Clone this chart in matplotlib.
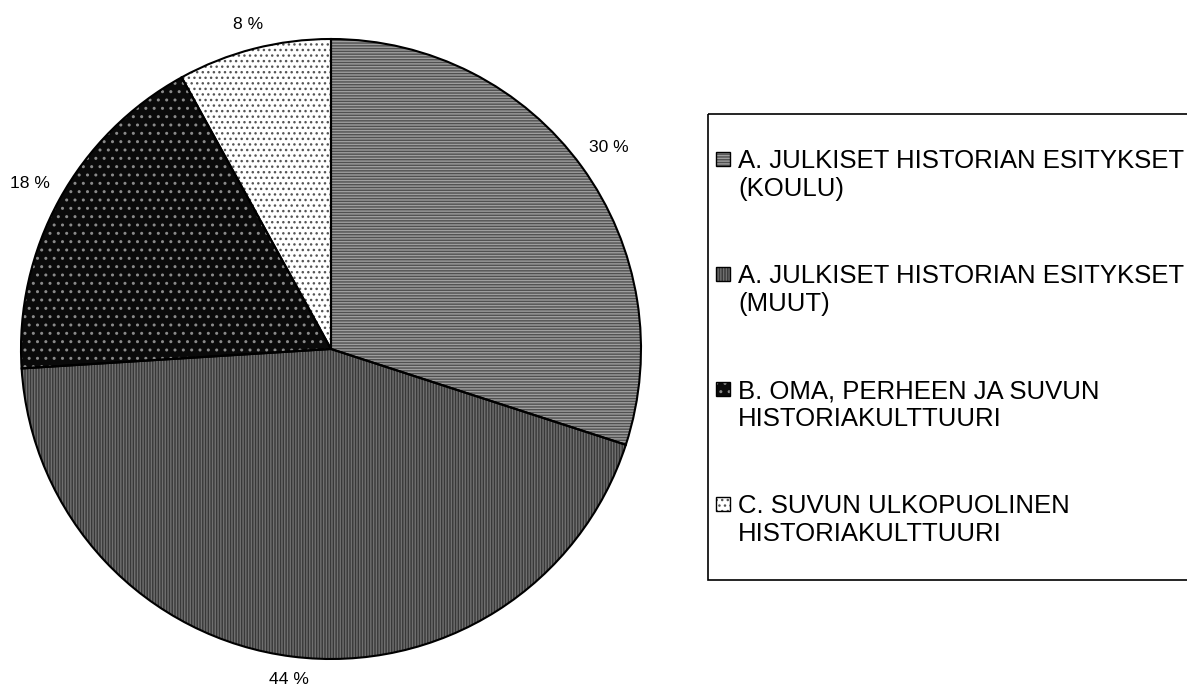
import matplotlib
matplotlib.use('Agg')
import numpy as np
import matplotlib.pyplot as plt
from matplotlib.patches import Rectangle

plt.rcParams['font.family'] = ['Liberation Sans', 'DejaVu Sans']
plt.rcParams['hatch.linewidth'] = 1.0

# data
categories = [
    'A. JULKISET HISTORIAN ESITYKSET\n(KOULU)',
    'A. JULKISET HISTORIAN ESITYKSET\n(MUUT)',
    'B. OMA, PERHEEN JA SUVUN\nHISTORIAKULTTUURI',
    'C. SUVUN ULKOPUOLINEN\nHISTORIAKULTTUURI',
]
shares = [30, 44, 18, 8]
pct_labels = ['30 %', '44 %', '18 %', '8 %']

# fill styles (grey patterns like the old Excel chart)
face_colors = ['#9e9e9e', '#383838', '#0a0a0a', '#ffffff']
hatch_colors = ['#505050', '#707070', '#8a8a8a', '#555555']
hatches = ['------', '||||||', '..', '...']

W, H, DPI = 1187, 685, 100
fig = plt.figure(figsize=(W / DPI, H / DPI), dpi=DPI)

# pie axes: centre (331, 349) px, radius 310 px
cx, cy, r = 331, 349, 310
ax = fig.add_axes([(cx - r) / W, (H - cy - r) / H, 2 * r / W, 2 * r / H])
wedges, _ = ax.pie(shares, startangle=90, counterclock=False,
                   wedgeprops=dict(linewidth=0))
for w, fc, hc, h in zip(wedges, face_colors, hatch_colors, hatches):
    w.set_facecolor(fc)
    w.set_edgecolor(hc)
    w.set_hatch(h)
    w.set_linewidth(0)

# percentage labels: text box kept just outside the rim (Excel style)
half_w, half_h = 20 / r, 8 / r
for w, lab in zip(wedges, pct_labels):
    ang = np.deg2rad((w.theta1 + w.theta2) / 2)
    c, s = np.cos(ang), np.sin(ang)
    d = 1.04 + half_w * abs(c) + half_h * abs(s)
    ax.text(d * c, d * s, lab, fontsize=12.6, ha='center', va='center')

# black outlines on top
ax.pie(shares, startangle=90, counterclock=False,
       wedgeprops=dict(edgecolor='black', linewidth=1.5, fill=False))
ax.set_xlim(-1, 1)
ax.set_ylim(-1, 1)
ax.set_aspect('equal')

# legend drawn by hand in pixel coords
lax = fig.add_axes([0, 0, 1, 1])
lax.set_xlim(0, W)
lax.set_ylim(H, 0)
lax.axis('off')
lax.add_patch(Rectangle((708, 114), 520, 466, fill=False, edgecolor='black',
                        linewidth=1.2, clip_on=False))

top0, step, pitch = 152, 115, 28
for i, (lab, fc, hc, h) in enumerate(zip(categories, face_colors, hatch_colors, hatches)):
    y = top0 + i * step
    lax.add_patch(Rectangle((716, y), 14, 14, facecolor=fc, edgecolor=hc,
                            hatch=h, linewidth=0))
    lax.add_patch(Rectangle((716, y), 14, 14, fill=False, edgecolor='black',
                            linewidth=1.0))
    line1, line2 = lab.split('\n')
    lax.text(738, y + 16, line1, fontsize=18.5, va='baseline', ha='left')
    lax.text(738, y + 16 + pitch, line2, fontsize=18.5, va='baseline', ha='left')

fig.savefig('out.png', dpi=DPI)
